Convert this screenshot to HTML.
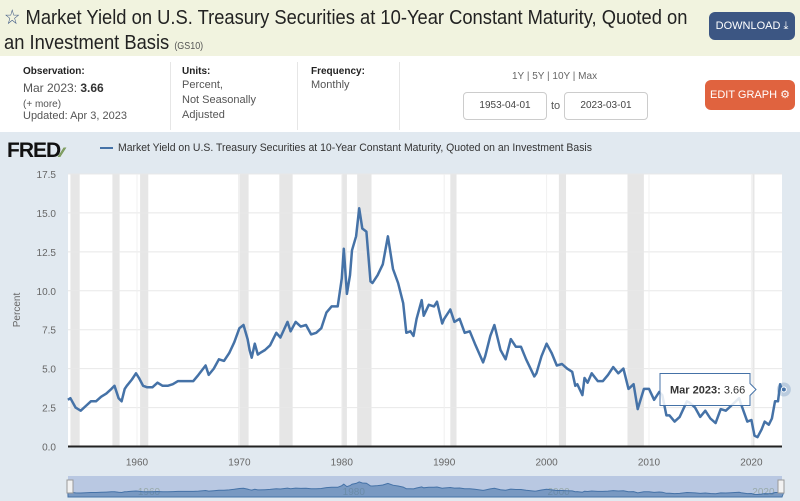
<!DOCTYPE html>
<html><head><meta charset="utf-8"><style>
*{margin:0;padding:0;box-sizing:border-box}
body{width:800px;height:501px;overflow:hidden;font-family:"Liberation Sans",sans-serif;background:#fff;position:relative;color:#333}
.hdr{position:absolute;left:0;top:0;width:800px;height:56px;background:#f1f3df}
.title{position:absolute;left:4px;top:5px;width:800px;font-size:20.5px;line-height:25px;color:#222;white-space:nowrap;transform:scaleX(0.895);transform-origin:0 0}
.title small{font-size:10px;color:#555}
.dl{position:absolute;left:709px;top:12px;width:86px;height:28px;background:#3c5683;border-radius:6px;color:#fff;font-size:11px;text-align:center;line-height:28px}
.info{position:absolute;top:56px;left:0;width:800px;height:76px;background:#fff}
.lab{position:absolute;font-size:10px;color:#222;font-weight:bold}
.val{position:absolute;font-size:11px;color:#555;line-height:15px}
.sep{position:absolute;top:62px;width:1px;height:68px;background:#e6e6e6}
.inp{position:absolute;top:92px;width:84px;height:28px;border:1px solid #ccc;border-radius:4px;font-size:10px;color:#444;text-align:center;line-height:26px}
.edit{position:absolute;left:705px;top:80px;width:90px;height:30px;background:#e0633f;border-radius:6px;color:#fff;font-size:11px;text-align:center;line-height:30px}
.chartbg{position:absolute;top:132px;left:0;width:800px;height:369px;background:#e1e9f0}
</style></head><body>
<div class="hdr">
<div class="title"><span style="color:#3c5683">☆</span> Market Yield on U.S. Treasury Securities at 10-Year Constant Maturity, Quoted on<br>an Investment Basis <small>(GS10)</small></div>
<div class="dl">DOWNLOAD ⤓</div>
</div>
<div class="info"></div>
<div class="lab" style="left:23px;top:66px">Observation:</div>
<div class="val" style="left:23px;top:79px;font-size:12px;line-height:18px">Mar 2023: <b style="color:#333">3.66</b></div>
<div class="val" style="left:23px;top:97px;font-size:10px">(+ more)</div>
<div class="val" style="left:23px;top:109px;font-size:11px">Updated: Apr 3, 2023</div>
<div class="sep" style="left:170px"></div><div class="sep" style="left:297px"></div><div class="sep" style="left:399px"></div>
<div class="lab" style="left:182px;top:66px">Units:</div>
<div class="val" style="left:182px;top:78px">Percent,<br>Not Seasonally<br>Adjusted</div>
<div class="lab" style="left:311px;top:66px">Frequency:</div>
<div class="val" style="left:311px;top:78px">Monthly</div>
<div class="val" style="left:512px;top:69px;font-size:10px;color:#666">1Y | 5Y | 10Y | Max</div>
<div class="inp" style="left:463px">1953-04-01</div>
<div class="val" style="left:551px;top:99px">to</div>
<div class="inp" style="left:564px">2023-03-01</div>
<div class="edit">EDIT GRAPH ⚙</div>
<div class="chartbg"></div>
<div style="position:absolute;left:7px;top:139px;font:bold 21px 'Liberation Sans',sans-serif;color:#111;letter-spacing:-1px">FRED<span style="color:#7a9a5a;font-size:14px">⁄⁄</span></div>
<div style="position:absolute;left:100px;top:147px;width:13px;height:2px;background:#4572a7"></div>
<div style="position:absolute;left:118px;top:142px;font-size:11px;color:#333;white-space:nowrap;transform:scaleX(0.95);transform-origin:0 0">Market Yield on U.S. Treasury Securities at 10-Year Constant Maturity, Quoted on an Investment Basis</div>
<svg id="chart" width="800" height="501" style="position:absolute;left:0;top:0"></svg>
<script>
const dates=[1953.25,1953.5,1954,1954.5,1955,1955.5,1956,1956.5,1957,1957.5,1957.8,1958.2,1958.5,1958.8,1959,1959.5,1959.9,1960.2,1960.6,1961,1961.5,1962,1962.5,1963,1963.5,1964,1964.5,1965,1965.5,1966,1966.7,1967,1967.5,1968,1968.5,1969,1969.5,1970,1970.4,1970.8,1971,1971.2,1971.5,1971.8,1972,1972.5,1973,1973.6,1974,1974.7,1975,1975.5,1976,1976.5,1977,1977.5,1978,1978.5,1979,1979.6,1980,1980.2,1980.5,1980.8,1981,1981.4,1981.7,1982,1982.4,1982.8,1983,1983.5,1984,1984.5,1985,1985.5,1986,1986.3,1986.7,1987,1987.3,1987.8,1988,1988.5,1989,1989.3,1989.8,1990,1990.6,1991,1991.5,1992,1992.5,1993,1993.8,1994,1994.5,1994.9,1995.5,1996,1996.5,1997,1997.5,1998,1998.8,1999,1999.5,2000,2000.5,2001,2001.5,2002,2002.5,2002.8,2003,2003.5,2003.7,2004,2004.4,2005,2005.5,2006,2006.5,2007,2007.5,2008,2008.5,2008.9,2009.5,2010,2010.5,2011,2011.3,2011.7,2012,2012.5,2013,2013.7,2014,2014.5,2015,2015.5,2016,2016.5,2017,2017.5,2018,2018.8,2019,2019.6,2020,2020.3,2020.6,2021,2021.3,2021.7,2022,2022.3,2022.6,2022.8,2023,2023.17];
const values=[3.0,3.1,2.5,2.3,2.6,2.9,2.9,3.2,3.4,3.7,3.9,3.1,2.9,3.7,3.9,4.3,4.7,4.4,3.9,3.8,3.8,4.1,3.9,3.9,4.0,4.2,4.2,4.2,4.2,4.6,5.2,4.6,5.0,5.6,5.5,6.0,6.7,7.6,7.8,6.9,6.2,5.7,6.6,5.9,6.0,6.2,6.5,7.3,7.0,8.0,7.4,8.0,7.7,7.8,7.2,7.3,7.6,8.6,9.0,9.0,10.8,12.7,9.8,11.0,12.6,13.5,15.3,14.0,13.8,10.6,10.5,11.0,11.7,13.5,11.4,10.5,9.2,7.3,7.4,7.1,8.2,9.4,8.4,9.1,9.0,9.3,7.9,8.2,8.8,8.0,8.2,7.3,7.4,6.6,5.4,5.8,7.1,7.8,6.2,5.6,6.9,6.4,6.4,5.6,4.5,4.7,5.8,6.6,6.0,5.2,5.3,5.0,4.8,3.9,4.0,3.3,4.4,4.1,4.7,4.2,4.2,4.6,5.1,4.7,5.0,3.7,4.0,2.4,3.7,3.7,3.0,3.5,3.3,2.0,2.0,1.6,1.9,2.9,2.8,2.5,1.9,2.3,1.8,1.5,2.4,2.3,2.6,3.1,2.7,1.6,1.7,0.7,0.6,1.1,1.6,1.4,1.8,2.9,2.9,4.0,3.6,3.66];
const yTicks=[0,2.5,5,7.5,10,12.5,15,17.5];
const xTicks=[1960,1970,1980,1990,2000,2010,2020];
const recStart=[1953.5,1957.6,1960.3,1969.9,1973.9,1980.0,1981.5,1990.6,2001.2,2007.9,2020.1];
const recEnd=[1954.4,1958.3,1961.1,1970.9,1975.2,1980.5,1982.9,1991.2,2001.9,2009.5,2020.3];
const NS="http://www.w3.org/2000/svg",svg=document.getElementById('chart');
const L=68,R=782,T=174,B=446.5;
const x=d=>137+(d-1960)*10.24, y=v=>B-v*(B-T)/17.5;
function mk(t,a,p){const e=document.createElementNS(NS,t);for(const k in a)e.setAttribute(k,a[k]);(p||svg).appendChild(e);return e;}
const bg=mk('rect',{x:L,y:T,width:R-L,height:B-T,fill:'#fff'});


recStart.forEach((s,i)=>{const r=mk('rect',{x:x(s),y:T,width:x(recEnd[i])-x(s),height:B-T,fill:'#e6e6e6'});

});
yTicks.forEach(v=>{const g=mk('line',{x1:L,x2:R,y1:y(v),y2:y(v),stroke:'#e8e8e8','stroke-width':1});


const t=mk('text',{x:56,y:y(v)+4,'text-anchor':'end','font-size':'10','font-family':'Liberation Sans,sans-serif',fill:'#666'});t.textContent=v.toFixed(1);

});
xTicks.forEach(d=>{const g=mk('line',{x1:x(d),x2:x(d),y1:T,y2:B,stroke:'#f0f0f0','stroke-width':1});


const t=mk('text',{x:x(d),y:B+19,'text-anchor':'middle','font-size':'10','font-family':'Liberation Sans,sans-serif',fill:'#666'});t.textContent=d;

});
const ax=mk('line',{x1:L,x2:R,y1:B,y2:B,stroke:'#222','stroke-width':2});


const yt=mk('text',{x:20,y:310,transform:'rotate(-90 20 310)','text-anchor':'middle','font-size':'10','font-family':'Liberation Sans,sans-serif',fill:'#666'});yt.textContent='Percent';


const line=mk('path',{d:dates.map((d,i)=>(i?'L':'M')+x(d).toFixed(1)+' '+y(values[i]).toFixed(1)).join(''),fill:'none',stroke:'#4572a7','stroke-width':2.5,'stroke-linejoin':'round'});


const li=dates.length-1;
const halo=mk('circle',{cx:x(dates[li]),cy:y(values[li]),r:7,fill:'#4572a7','fill-opacity':0.25});


const pt=mk('circle',{cx:x(dates[li]),cy:y(values[li]),r:2.5,fill:'#4572a7',stroke:'#fff','stroke-width':1});


const tip=mk('path',{d:`M660 ${y(values[li])-16}h90v10l6 6l-6 6v10h-90z`,fill:'#fff','fill-opacity':0.85,stroke:'#4572a7','stroke-width':1});


const tt=mk('text',{x:670,y:y(values[li])+4,'font-size':'11','font-family':'Liberation Sans,sans-serif',fill:'#333'});
tt.innerHTML='<tspan font-weight="bold">Mar 2023:</tspan> '+values[li].toFixed(2);


const NT=476,NB=497,ny=v=>NB-2-v*(NB-NT-6)/17.5;
const nb=mk('rect',{x:L,y:NT,width:R-L,height:NB-NT,fill:'#b9c8e2'});


[1960,1980,2000,2020].forEach(d=>{const t=mk('text',{x:x(d)+12,y:NB-2,'text-anchor':'middle','font-size':'10','font-family':'Liberation Sans,sans-serif',fill:'#9aa'});t.textContent=d;

});
const na=mk('path',{d:'M'+L+' '+NB+dates.map((d,i)=>'L'+x(d).toFixed(1)+' '+ny(values[i]).toFixed(1)).join('')+'L'+R+' '+NB+'Z',fill:'#4572a7','fill-opacity':0.55,stroke:'#4572a7','stroke-width':1});


[L-1,R-4].forEach(hx=>{const h=mk('rect',{x:hx,y:480,width:6,height:13,fill:'#f2f2f2',stroke:'#999'});

});
</script>
</body></html>
